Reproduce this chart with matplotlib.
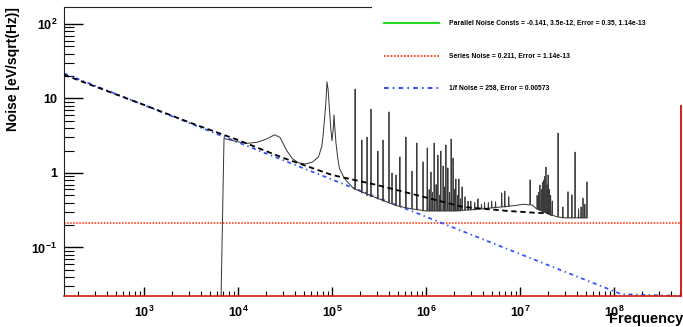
import numpy as np
import matplotlib
matplotlib.use("Agg")
import matplotlib.pyplot as plt
from matplotlib.ticker import LogLocator, NullFormatter, FixedLocator, FixedFormatter
from matplotlib.patches import Rectangle
from matplotlib.lines import Line2D

plt.rcParams['font.family'] = ['Liberation Sans', 'DejaVu Sans']
plt.rcParams['font.weight'] = 'bold'
plt.rcParams['mathtext.default'] = 'regular'

# measured noise spectrum: smooth part (freq, value)
base_freq = [6.6e3, 7.1e3, 8.5e3, 1.0e4, 1.25e4, 1.6e4, 2.0e4, 2.45e4, 2.8e4, 3.3e4,
             3.8e4, 4.4e4, 5.2e4, 6.2e4, 7.2e4, 7.8e4, 8.0e4, 8.4e4, 8.6e4, 8.85e4,
             9.1e4, 9.3e4, 9.7e4, 1.0e5, 1.03e5, 1.05e5, 1.07e5, 1.1e5, 1.15e5, 1.2e5,
             1.35e5, 1.55e5, 1.7e5, 2.2e5, 3.0e5, 4.0e5, 5.0e5, 7.0e5, 1.0e6, 1.5e6,
             2.0e6, 3.0e6, 5.0e6, 8.0e6, 1.1e7, 1.35e7, 1.5e7, 1.8e7, 2.2e7, 2.6e7,
             3.0e7, 4.0e7, 5.1e7]
base_val = [0.02, 2.9, 2.75, 2.62, 2.5, 2.58, 2.85, 3.25, 3.0, 2.0,
            1.55, 1.37, 1.32, 1.4, 1.65, 2.3, 3.0, 6.0, 8.7, 16.7,
            13.0, 8.7, 4.0, 2.7, 3.8, 6.0, 4.2, 2.6, 1.6, 1.15,
            0.85, 0.7, 0.62, 0.54, 0.46, 0.40, 0.36, 0.33, 0.31, 0.31,
            0.31, 0.32, 0.34, 0.36, 0.38, 0.37, 0.33, 0.30, 0.27, 0.255,
            0.25, 0.25, 0.25]

# narrow lines in the spectrum
spike_freq = [1.76e5, 2.08e5, 2.36e5, 2.6e5, 3.08e5, 3.49e5, 4.04e5, 4.35e5, 4.8e5, 5.28e5,
              6.12e5, 7.1e5, 8.0e5, 9.3e5, 1.03e6, 1.13e6, 1.22e6, 1.34e6, 1.44e6, 1.52e6,
              1.63e6, 1.71e6, 1.85e6, 1.94e6, 2.08e6, 2.24e6, 2.42e6, 2.6e6, 3.0e6, 3.57e6,
              4.2e6, 5.0e6, 6.4e6, 6.9e6, 7.6e6, 1.28e7, 1.52e7, 1.57e7, 1.63e7, 1.68e7,
              1.73e7, 1.78e7, 1.84e7, 1.89e7, 1.94e7, 1.99e7, 2.05e7, 2.12e7, 2.2e7, 2.54e7,
              2.86e7, 3.24e7, 3.57e7, 3.85e7, 4.2e7, 4.46e7, 4.68e7, 4.9e7, 5.16e7,
              1.08e6, 1.17e6, 1.28e6, 1.39e6, 1.58e6, 1.78e6, 2.0e6, 2.16e6, 2.33e6, 2.8e6,
              3.3e6, 3.9e6, 4.6e6, 5.5e6, 1.6e7, 1.7e7, 1.8e7, 1.92e7, 2.02e7, 2.1e7]
spike_peak = [13.4, 2.77, 3.04, 7.2, 1.97, 2.77, 6.6, 1.0, 0.94, 1.64,
              3.04, 1.06, 2.53, 1.41, 2.17, 1.03, 2.53, 1.74, 1.97, 1.24,
              2.38, 1.17, 2.86, 1.59, 0.83, 0.83, 0.65, 0.48, 0.42, 0.45,
              0.40, 0.42, 0.54, 0.57, 0.48, 0.81, 0.5, 0.55, 0.69, 0.6,
              0.75, 0.8, 0.9, 1.2, 0.7, 0.94, 0.6, 0.5, 0.42, 3.44,
              0.35, 0.56, 0.51, 1.91, 0.33, 0.35, 0.46, 0.38, 0.76,
              0.6, 0.55, 0.7, 0.5, 0.65, 0.55, 0.6, 0.5, 0.45, 0.42,
              0.40, 0.38, 0.40, 0.41, 0.45, 0.5, 0.55, 0.6, 0.5, 0.45]
spike_base = [0.6, 0.54, 0.5, 0.48, 0.45, 0.42, 0.40, 0.39, 0.37, 0.36,
              0.34, 0.33, 0.32, 0.31, 0.31, 0.31, 0.31, 0.31, 0.31, 0.31,
              0.31, 0.31, 0.31, 0.31, 0.31, 0.31, 0.32, 0.32, 0.32, 0.33,
              0.33, 0.34, 0.35, 0.35, 0.36, 0.38, 0.33, 0.33, 0.32, 0.32,
              0.31, 0.31, 0.30, 0.30, 0.29, 0.29, 0.28, 0.27, 0.27, 0.26,
              0.25, 0.25, 0.25, 0.25, 0.25, 0.25, 0.25, 0.25, 0.25,
              0.31, 0.31, 0.31, 0.31, 0.31, 0.31, 0.31, 0.31, 0.31, 0.32,
              0.32, 0.33, 0.33, 0.34, 0.32, 0.31, 0.30, 0.29, 0.28, 0.28]

# total fit (black dashed)
fit_freq = [141, 1e3, 3e3, 1e4, 3e4, 1e5, 3.0e5, 8.7e5, 2.46e6, 7.2e6, 1.6e7, 2.0e7]
fit_val = [20.8, 8.2, 4.8, 2.77, 1.6, 0.94, 0.69, 0.49, 0.35, 0.31, 0.29, 0.29]

# 1/f component (blue), series component (red)
onef_freq = [141, 1.2e8, 5.16e8]
onef_val = [21.7, 0.0236, 0.0223]
series_val = 0.211

legend_labels = ["Parallel Noise Consts = -0.141, 3.5e-12, Error = 0.35, 1.14e-13",
                 "Series Noise = 0.211, Error = 1.14e-13",
                 "1/f Noise = 258, Error = 0.00573"]

W, H = 683, 327
fig = plt.figure(figsize=(W / 100, H / 100), dpi=100)
ax = fig.add_axes([64 / W, 1 - 296 / H, (681 - 64) / W, (296 - 7) / H])
ax.set_xscale('log')
ax.set_yscale('log')
ax.set_xlim(141, 5.16e8)
ax.set_ylim(0.0223, 169)

blue_ls = (0, (2.2, 2, 0.8, 2))
ax.axhline(series_val, color='#ff2200', lw=1.1, ls=(0, (1, 1)), zorder=2)
ax.plot(onef_freq, onef_val, color='#3355ff', lw=1.3, ls=blue_ls, zorder=2, clip_on=False)
ax.plot(base_freq, base_val, color='#333333', lw=0.7, zorder=3)
for f, p, b in zip(spike_freq, spike_peak, spike_base):
    ax.plot([f / 1.01, f, f * 1.01], [b, p, b], color='#3a3a3a', lw=0.6, zorder=3)
ax.plot(fit_freq, fit_val, color='black', lw=1.3, ls=(0, (3, 2)), zorder=4)

for s in ['left', 'top']:
    ax.spines[s].set_color('#222222')
ax.spines['right'].set_color('#cc1100')
ax.spines['right'].set_linewidth(1.3)
ax.spines['bottom'].set_color('#cc2211')
ax.spines['bottom'].set_linewidth(1.2)

ax.xaxis.set_major_locator(LogLocator(base=10, numticks=20))
ax.xaxis.set_minor_locator(LogLocator(base=10, subs=np.arange(2, 10), numticks=20))
ax.xaxis.set_minor_formatter(NullFormatter())
ax.yaxis.set_major_locator(FixedLocator([0.1, 1, 10, 100]))
ax.yaxis.set_major_formatter(FixedFormatter([r'$\mathdefault{10^{-1}}$', '1', '10', r'$\mathdefault{10^{2}}$']))
ax.yaxis.set_minor_locator(LogLocator(base=10, subs=np.arange(2, 10), numticks=20))
ax.yaxis.set_minor_formatter(NullFormatter())
ax.tick_params(axis='x', which='major', direction='in', length=6.5, width=1, pad=6, labelsize=9, top=False)
ax.tick_params(axis='x', which='minor', direction='in', length=3.6, width=0.8, top=False)
ax.tick_params(axis='y', which='major', direction='in', length=13.7, width=1, pad=5, labelsize=9, right=False)
ax.tick_params(axis='y', which='minor', direction='in', length=7, width=0.8, right=False)

fig.text(13 / W, 1 - 7 / H, 'Noise [eV/sqrt(Hz)]', rotation=90, ha='center', va='top',
         fontsize=10, fontweight='bold')
fig.text(1.0, 0.004, 'Frequency', ha='right', va='bottom', fontsize=10.5, fontweight='bold')

# legend box
fig.add_artist(Rectangle((372 / W, 1 - 105 / H), (W - 372) / W, 105 / H, transform=fig.transFigure,
                         facecolor='white', edgecolor='none', zorder=3))
styles = [dict(color='#22dd22', lw=1.5, ls='-'),
          dict(color='#ff2200', lw=1.2, ls=(0, (1, 1))),
          dict(color='#3355ff', lw=1.5, ls=blue_ls)]
for row_y, lab, st in zip([23, 56, 88], legend_labels, styles):
    yy = 1 - row_y / H
    fig.add_artist(Line2D([384 / W, 439 / W], [yy, yy], transform=fig.transFigure, zorder=4, **st))
    fig.text(449 / W, yy, lab, ha='left', va='center', fontsize=4.85, fontweight='bold', zorder=4)

fig.savefig('out.png', dpi=100)
